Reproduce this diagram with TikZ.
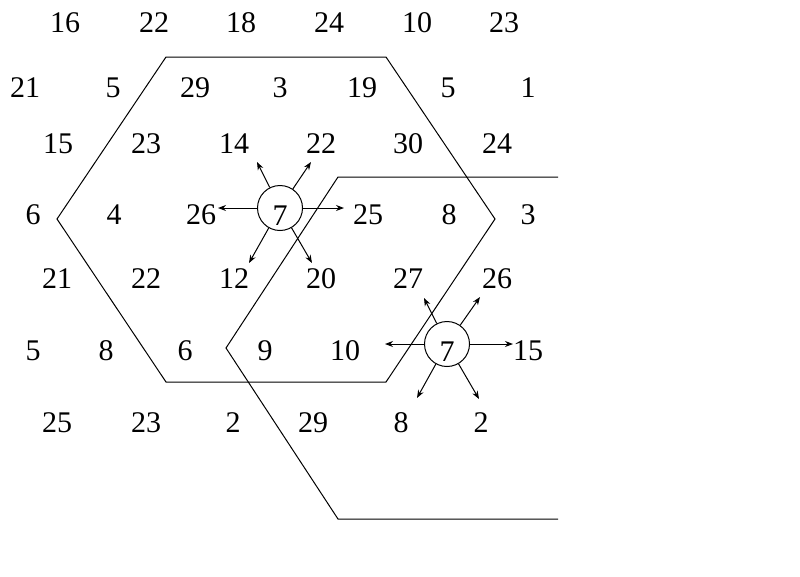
\documentclass[tikz,border=0pt]{standalone}
\usepackage{fontspec}
\setmainfont{Liberation Serif}
\usetikzlibrary{arrows.meta}
\begin{document}
\begin{tikzpicture}[x=1pt,y=-1pt,
  num/.style={inner sep=0pt,font=\fontsize{30}{34}\selectfont},
  ring/.style={circle,draw,line width=1pt,minimum size=45pt,inner sep=0pt,text height=34pt,text depth=0pt,font=\fontsize{30}{34}\selectfont},
  edge/.style={line width=1pt},
  arr/.style={line width=1pt,-{Stealth[length=8pt,width=6pt]}}]
\useasboundingbox (0,0) rectangle (800,576);
% row 1
\node[num] (r1a) at (65,23) {16};
\node[num] (r1b) at (154,23) {22};
\node[num] (r1c) at (241,23) {18};
\node[num] (r1d) at (329,23) {24};
\node[num] (r1e) at (417,23) {10};
\node[num] (r1f) at (504,23) {23};
% row 2
\node[num] (r2a) at (25,88) {21};
\node[num] (r2b) at (113,88) {5};
\node[num] (r2c) at (195,88) {29};
\node[num] (r2d) at (280,88) {3};
\node[num] (r2e) at (362,88) {19};
\node[num] (r2f) at (448,88) {5};
\node[num] (r2g) at (528,88) {1};
% row 3
\node[num] (r3a) at (58,144) {15};
\node[num] (r3b) at (146,144) {23};
\node[num] (r3c) at (234,144) {14};
\node[num] (r3d) at (321,144) {22};
\node[num] (r3e) at (408,144) {30};
\node[num] (r3f) at (497,144) {24};
% row 4
\node[num] (r4a) at (33,215) {6};
\node[num] (r4b) at (114,215) {4};
\node[num] (r4c) at (201,215) {26};
\node[ring] (c1) at (280,208) {7};
\node[num] (r4e) at (368,215) {25};
\node[num] (r4f) at (449,215) {8};
\node[num] (r4g) at (528,215) {3};
% row 5
\node[num] (r5a) at (57,279) {21};
\node[num] (r5b) at (146,279) {22};
\node[num] (r5c) at (234,279) {12};
\node[num] (r5d) at (321,279) {20};
\node[num] (r5e) at (408,279) {27};
\node[num] (r5f) at (497,279) {26};
% row 6
\node[num] (r6a) at (33,351) {5};
\node[num] (r6b) at (106,351) {8};
\node[num] (r6c) at (185,351) {6};
\node[num] (r6d) at (265,351) {9};
\node[num] (r6e) at (345,351) {10};
\node[ring] (c2) at (447,344) {7};
\node[num] (r6g) at (528,351) {15};
% row 7
\node[num] (r7a) at (57,423) {25};
\node[num] (r7b) at (146,423) {23};
\node[num] (r7c) at (233,423) {2};
\node[num] (r7d) at (313,423) {29};
\node[num] (r7e) at (401,423) {8};
\node[num] (r7f) at (481,423) {2};
% hexagon
\draw[edge] (166,57) -- (386,57) -- (495,219) -- (386,382) -- (166,382) -- (57,219) -- cycle;
% second outline
\draw[edge] (558,177) -- (338,177) -- (226,348) -- (338,519) -- (558,519);
% arrows circle 1
\coordinate (a1) at (257,162);
\coordinate (a2) at (311,162);
\coordinate (a3) at (218,208);
\coordinate (a4) at (344,208);
\coordinate (a5) at (249,263);
\coordinate (a6) at (312,263);
\foreach \t in {a1,a2,a3,a4,a5,a6} \draw[arr] (c1) -- (\t);
% arrows circle 2
\coordinate (b1) at (424,298);
\coordinate (b2) at (480,297);
\coordinate (b3) at (385,344);
\coordinate (b4) at (513,344);
\coordinate (b5) at (417,398);
\coordinate (b6) at (479,399);
\foreach \t in {b1,b2,b3,b4,b5,b6} \draw[arr] (c2) -- (\t);
\end{tikzpicture}
\end{document}
